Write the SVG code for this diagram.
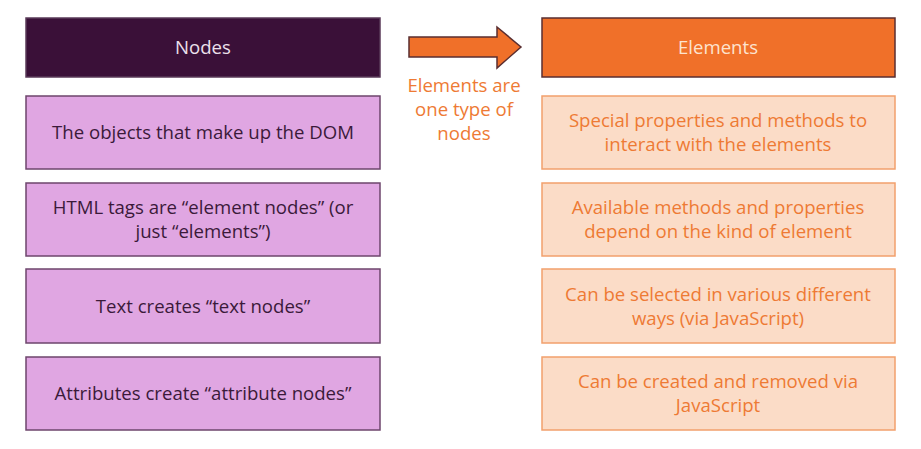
<svg xmlns="http://www.w3.org/2000/svg" width="921" height="449" viewBox="0 0 921 449">
<style>
text{font-family:"Open Sans","Noto Sans","Liberation Sans",sans-serif;font-size:18.6px;text-anchor:middle}
.nh{fill:#3a1038;stroke:#5a3a58;stroke-width:1.5}
.nb{fill:#e0a6e2;stroke:#6e466c;stroke-width:1.5}
.nt{fill:#3b1a3a}
.eh{fill:#f07029;stroke:#5a2e30;stroke-width:1.5}
.eb{fill:#fbdcc7;stroke:#f2a06c;stroke-width:1.5}
.et{fill:#ee7a34}
</style>
<rect width="921" height="449" fill="#ffffff"/>
<g id="nodes-header"><rect class="nh" x="26" y="18" width="354" height="59"/><text x="203" y="54" fill="#ece0ec">Nodes</text></g>
<g id="node-1"><rect class="nb" x="26" y="96" width="354" height="73"/><text class="nt" x="203" y="139">The objects that make up the DOM</text></g>
<g id="node-2"><rect class="nb" x="26" y="183" width="354" height="73"/><text class="nt" x="203" y="214">HTML tags are “element nodes” (or</text><text class="nt" x="203" y="238">just “elements”)</text></g>
<g id="node-3"><rect class="nb" x="26" y="269" width="354" height="74"/><text class="nt" x="203" y="313">Text creates “text nodes”</text></g>
<g id="node-4"><rect class="nb" x="26" y="357" width="354" height="73"/><text class="nt" x="203" y="400">Attributes create “attribute nodes”</text></g>
<g id="elements-header"><rect class="eh" x="542" y="18" width="353" height="59"/><text x="718" y="54" fill="#fde3cf">Elements</text></g>
<g id="el-1"><rect class="eb" x="542" y="96" width="353" height="73"/><text class="et" x="718" y="127">Special properties and methods to</text><text class="et" x="718" y="151">interact with the elements</text></g>
<g id="el-2"><rect class="eb" x="542" y="183" width="353" height="73"/><text class="et" x="718" y="214">Available methods and properties</text><text class="et" x="718" y="238">depend on the kind of element</text></g>
<g id="el-3"><rect class="eb" x="542" y="269" width="353" height="74"/><text class="et" x="718" y="301">Can be selected in various different</text><text class="et" x="718" y="325">ways (via JavaScript)</text></g>
<g id="el-4"><rect class="eb" x="542" y="357" width="353" height="73"/><text class="et" x="718" y="388">Can be created and removed via</text><text class="et" x="718" y="412">JavaScript</text></g>
<g id="connectors">
<polygon points="409,37 497,37 497,27 521,47 497,68 497,57 409,57" fill="#f07029" stroke="#5a2e30" stroke-width="1.5" stroke-linejoin="miter"/>
<text class="et" x="464" y="92">Elements are</text>
<text class="et" x="464" y="116">one type of</text>
<text class="et" x="464" y="140">nodes</text>
</g>
</svg>
